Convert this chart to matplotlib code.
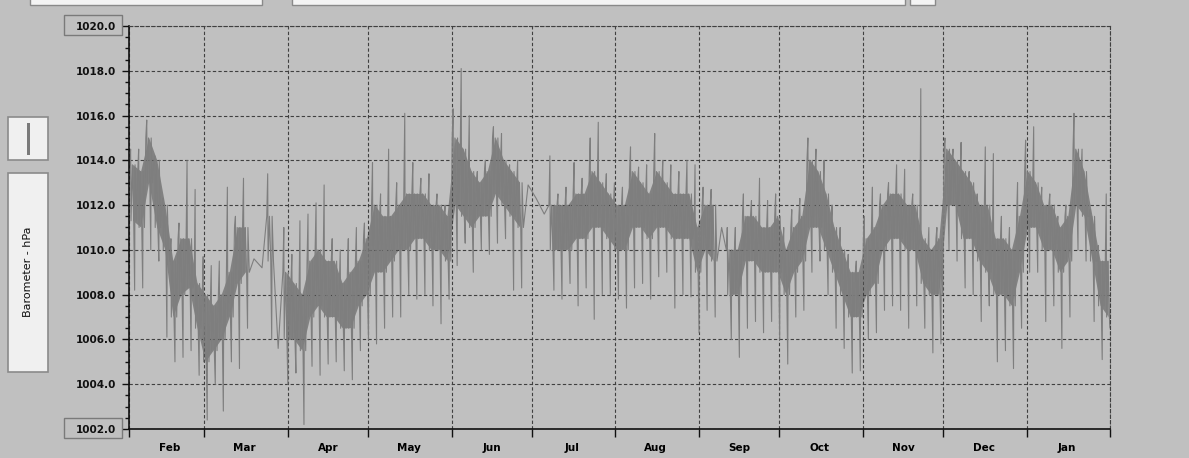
import numpy as np
import pandas as pd
import matplotlib
matplotlib.use('Agg')
import matplotlib.pyplot as plt
import matplotlib.dates as mdates
from matplotlib.patches import Rectangle
from matplotlib.ticker import MultipleLocator, FormatStrFormatter, NullFormatter

W, H = 1189, 458
BG = '#c0c0c0'
LINE = '#7e7e7e'
nan = np.nan

# barometer (hPa), one group per 3 days from 1 Feb.
# core = dense band of readings, spike = extremes of the group.
# where spikes are nan there are no readings and the line just joins up.
core_lo = [
    1011.3, 1011, 1013, 1011, 1010, 1007, 1008, 1008.3, 1006.5, 1005,
    1005.5, 1006, 1007, 1008.5, 1009, 1009.6, 1009.2, 1009.5, 1005.6, 1006,
    1006, 1005.5, 1007, 1007.5, 1007, 1007, 1006.5, 1006.5, 1007.5, 1008,
    1009, 1009, 1009.5, 1010, 1010, 1010.5, 1010.5, 1010, 1010, 1009.5,
    1012, 1011.5, 1011, 1011.5, 1011.5, 1012.5, 1012, 1011.5, 1011, 1012.9,
    1012.3, 1011.6, 1010, 1010, 1010, 1010.5, 1010.5, 1011, 1011, 1010.5,
    1010, 1010, 1011, 1011, 1010.5, 1011, 1011, 1010.5, 1010.5, 1010.5,
    1009, 1010, 1009.5, 1011, 1008, 1008, 1009.5, 1009.5, 1009, 1009,
    1009, 1008, 1009, 1009.5, 1011, 1011, 1010, 1009, 1008, 1007,
    1007, 1008, 1008.5, 1010, 1010.5, 1010.5, 1010, 1010, 1008.5, 1008,
    1008, 1012, 1012, 1010.5, 1010.5, 1009.5, 1009, 1008, 1008, 1007.5,
    1009, 1011, 1011, 1010, 1010, 1009, 1009.5, 1012, 1011.5, 1009.5,
    1007.5, 1007,
]
core_hi = [
    1013.8, 1013.5, 1015, 1014, 1012, 1009.5, 1010.5, 1010.5, 1008.5, 1008,
    1007.5, 1008, 1009, 1011, 1011, 1009.6, 1009.2, 1011.5, 1005.6, 1009,
    1008.5, 1008, 1009.5, 1010, 1009.5, 1009.5, 1008.5, 1009, 1009.5, 1010.5,
    1012, 1011.5, 1011.5, 1012, 1012.5, 1012.5, 1012.5, 1012, 1012, 1011.5,
    1015, 1014.5, 1013.5, 1013, 1013.5, 1015, 1014, 1013.5, 1013, 1012.9,
    1012.3, 1011.6, 1012, 1012, 1012, 1012.5, 1012.5, 1013.5, 1013, 1012.5,
    1012, 1012, 1013.5, 1013, 1012.5, 1013.5, 1013, 1012.5, 1012.5, 1012.5,
    1011, 1012, 1012, 1011, 1010, 1010, 1011.5, 1011.5, 1011, 1011,
    1011.5, 1010, 1011, 1011.5, 1014, 1013.5, 1012.5, 1011, 1010, 1009,
    1009, 1010.5, 1011, 1012, 1012.5, 1012.5, 1012, 1012, 1010.5, 1010,
    1010.5, 1014.5, 1014, 1013.5, 1013, 1012, 1012, 1010.5, 1010.5, 1010,
    1011.5, 1013.5, 1013, 1012, 1012, 1011, 1011.5, 1014.5, 1013.5, 1011.5,
    1009.5, 1009.5,
]
spike_hi = [
    1014.5, 1014.5, 1015.8, 1014.2, 1012.3, 1010.5, 1011.2, 1014.0, 1012.7, 1009.7,
    1009.3, 1009.5, 1012.8, 1011.5, 1013.2, nan, nan, 1013.4, nan, 1011,
    1009.8, 1011.3, 1011.6, 1012.1, 1012.9, 1010.5, 1010, 1010.5, 1011, 1011.2,
    1013.9, 1012.5, 1014.5, 1013, 1016.1, 1013.9, 1013.2, 1013.4, 1012.5, 1012,
    1016.3, 1018.1, 1016, 1013.5, 1014, 1015.5, 1015.2, 1013.8, 1014, nan,
    nan, nan, 1014.2, 1012.5, 1012.8, 1013.9, 1013.2, 1015.0, 1015.7, 1013.4,
    1013, 1012.8, 1014.6, 1013.7, 1013.8, 1015.2, 1014, 1013.8, 1013.5, 1014,
    1013.8, 1012.8, 1012.7, nan, 1011, 1011, 1012.5, 1012.2, 1013.2, 1012.2,
    1012.5, 1011, 1011.8, 1012.3, 1015, 1014.5, 1014.0, 1012, 1011, 1009.8,
    1009.5, 1011.5, 1012.8, 1012.5, 1013.0, 1013.8, 1013.6, 1012.5, 1017.2, 1011,
    1011, 1015.0, 1014.5, 1014.8, 1013.5, 1012.5, 1014.6, 1014.3, 1011.5, 1011,
    1013, 1014.9, 1015.5, 1012.8, 1012.5, 1011.5, 1012, 1016.1, 1014.5, 1011.8,
    1010.2, 1012.5,
]
spike_lo = [
    1008.2, 1008.3, 1010, 1009.5, 1006.1, 1005.0, 1005.2, 1005.5, 1004.4, 1002.4,
    1004.0, 1002.8, 1005.0, 1004.7, 1006.5, nan, nan, 1006, nan, 1004,
    1004.5, 1002.2, 1004.8, 1004.4, 1004.9, 1005, 1004.6, 1004.2, 1005.5, 1006,
    1005.8, 1006.5, 1007, 1007.0, 1008, 1007.8, 1008, 1007.5, 1006.7, 1007.8,
    1009.3, 1010.3, 1009, 1010, 1009.8, 1010.3, 1010.5, 1008.2, 1008.3, nan,
    nan, nan, 1008.2, 1007.8, 1008.5, 1007.5, 1008.3, 1006.9, 1008, 1008,
    1007.8, 1007.4, 1008.3, 1008.5, 1007.8, 1008.8, 1009, 1007.4, 1008, 1007.9,
    1006.3, 1007.3, 1007, nan, 1006, 1005.2, 1006.5, 1006.8, 1006.3, 1006.8,
    1006, 1004.9, 1007, 1007.3, 1009, 1009.5, 1008, 1006.5, 1005.6, 1004.5,
    1004.6, 1006, 1006.3, 1007.3, 1007.5, 1007.3, 1006.5, 1007.5, 1006.5, 1005.4,
    1005.8, 1010, 1009.5, 1008.3, 1008, 1006.8, 1007.5, 1005.0, 1005.5, 1004.7,
    1006.5, 1009, 1009, 1006.8, 1007.5, 1005.6, 1007, 1010, 1009.5, 1006.8,
    1005.1, 1006.5,
]

y_ticks = [1002, 1004, 1006, 1008, 1010, 1012, 1014, 1016, 1018, 1020]

steps = mdates.date2num(pd.date_range('2013-02-01', periods=len(core_lo), freq='3D'))
has_data = ~np.isnan(np.array(spike_hi))

# one continuous trace: up and down through the band, with a high and a low spike per group
xs, ys = [], []
for t, cl, ch, sh, sl in zip(steps, core_lo, core_hi, spike_hi, spike_lo):
    if np.isnan(sh):
        xs.append(t + 1.5)
        ys.append(cl)
        continue
    xs += [t + 0.25, t + 0.6, t + 0.75, t + 1.25, t + 1.75, t + 2.1, t + 2.25, t + 2.75]
    ys += [ch, sh, cl, ch, cl, sl, ch, cl]


def fig_rect(x0, y0, x1, y1):
    return (x0 / W, 1 - y1 / H), (x1 - x0) / W, (y1 - y0) / H


fig = plt.figure(figsize=(W / 100, H / 100), dpi=100, facecolor=BG)
ax = fig.add_axes([129 / W, 29 / H, 981 / W, 403 / H], facecolor=BG)

ax.fill_between(steps + 1.5, core_lo, core_hi, where=has_data, color='#828282', lw=0)
ax.plot(xs, ys, color=LINE, lw=0.8)

ax.set_xlim(mdates.date2num(pd.Timestamp('2013-02-01')), mdates.date2num(pd.Timestamp('2014-02-01')))
ax.set_ylim(1002, 1020)

ax.set_yticks(y_ticks)
ax.yaxis.set_major_formatter(FormatStrFormatter('%.1f'))
ax.yaxis.set_minor_locator(MultipleLocator(0.5))
ax.tick_params(axis='y', which='major', length=5, width=1, pad=4, labelsize=7.5, colors='#101010')
ax.tick_params(axis='y', which='minor', length=3, width=1, colors='#101010')
for lab in ax.get_yticklabels():
    lab.set_fontweight('bold')

ax.xaxis.set_major_locator(mdates.MonthLocator())
ax.xaxis.set_major_formatter(NullFormatter())
ax.xaxis.set_minor_locator(mdates.MonthLocator(bymonthday=16))
ax.xaxis.set_minor_formatter(mdates.DateFormatter('%b'))
ax.tick_params(axis='x', which='major', length=6, width=1, colors='#101010')
ax.tick_params(axis='x', which='minor', length=0, pad=10, labelsize=7.5)
for lab in ax.get_xticklabels(minor=True):
    lab.set_fontweight('bold')

ax.grid(True, which='major', color='#404040', linestyle=(0, (3, 2)), linewidth=0.8)
for side in ['left', 'bottom']:
    ax.spines[side].set_color('#101010')
    ax.spines[side].set_linewidth(1.2)
for side in ['top', 'right']:
    ax.spines[side].set_color('#404040')
    ax.spines[side].set_linestyle((0, (3, 2)))
    ax.spines[side].set_linewidth(0.8)

# boxes round the end labels
for y0, y1 in [(15, 35), (418, 438)]:
    xy, w, h = fig_rect(64, y0, 122, y1)
    fig.add_artist(Rectangle(xy, w, h, transform=fig.transFigure, fill=False, ec='#7a7a7a', lw=1))

# left side buttons
for y0, y1 in [(117, 160), (173, 372)]:
    xy, w, h = fig_rect(8, y0, 48, y1)
    fig.add_artist(Rectangle(xy, w, h, transform=fig.transFigure, fc='#f0f0f0', ec='#8a8a8a', lw=1.2))
xy, w, h = fig_rect(27, 123, 30, 155)
fig.add_artist(Rectangle(xy, w, h, transform=fig.transFigure, fc='#7a7a7a', ec='none'))
fig.text(28 / W, 1 - 272 / H, 'Barometer - hPa', rotation=90, ha='center', va='center', fontsize=8, color='#101010')

# toolbar strip at the top
for x0, x1 in [(30, 262), (292, 905), (910, 935)]:
    xy, w, h = fig_rect(x0, -2, x1, 5)
    fig.add_artist(Rectangle(xy, w, h, transform=fig.transFigure, fc='#f4f4f4', ec='#8a8a8a', lw=1))

fig.savefig('out.png', dpi=100, facecolor=BG)
